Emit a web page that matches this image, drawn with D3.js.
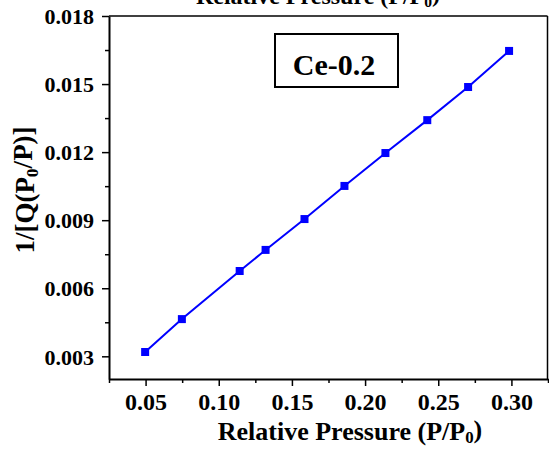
<!DOCTYPE html>
<html><head><meta charset="utf-8">
<script src="https://cdn.jsdelivr.net/npm/d3@7/dist/d3.min.js"></script>
<style>body{margin:0;background:#fff}svg{display:block}svg text{font-family:"Liberation Serif","Times New Roman",Times,"DejaVu Serif",serif !important;font-weight:bold;fill:#000}</style>
</head><body>
<script>
const pressure = [0.0497, 0.0748, 0.1143, 0.1320, 0.1586, 0.1859, 0.2139, 0.2425, 0.2704, 0.2984];
const invQ = [0.00319, 0.00464, 0.00676, 0.00769, 0.00905, 0.01051, 0.01196, 0.01341, 0.01487, 0.01646];
const xTicks = [0.05, 0.10, 0.15, 0.20, 0.25, 0.30];
const xMinor = [0.025, 0.075, 0.125, 0.175, 0.225, 0.275, 0.325];
const yTicks = [0.003, 0.006, 0.009, 0.012, 0.015, 0.018];
const yMinor = [0.0045, 0.0075, 0.0105, 0.0135, 0.0165];
const sampleLabel = "Ce-0.2";

const W = 549, H = 455;
const m = {left:109, top:16, right:1, bottom:76};
const svg = d3.select("body").append("svg").attr("width", W).attr("height", H);
const x = d3.scaleLinear().domain([0.025, 0.325]).range([m.left, W - m.right]);
const y = d3.scaleLinear().domain([0.002, 0.018]).range([H - m.bottom, m.top]);

// frame (top/right)
svg.append("line").attr("x1", m.left).attr("x2", W - m.right - 0.5).attr("y1", m.top).attr("y2", m.top).attr("stroke","#000").attr("stroke-width",1.5);
svg.append("line").attr("x1", W - m.right - 0.5).attr("x2", W - m.right - 0.5).attr("y1", m.top).attr("y2", H - m.bottom).attr("stroke","#000").attr("stroke-width",1.5);

// bottom axis
const xAxis = svg.append("g").attr("transform", `translate(0,${H - m.bottom})`)
  .call(d3.axisBottom(x).tickValues(xTicks).tickFormat(d3.format(".2f")).tickSize(7).tickSizeOuter(0));
xAxis.attr("font-family", null);
xAxis.select(".domain").attr("stroke-width", 2);
xAxis.selectAll(".tick line").attr("stroke-width", 1.5);
xAxis.selectAll("text").attr("font-size", 24).attr("dy", null).attr("y", 31);
svg.append("g").attr("transform", `translate(0,${H - m.bottom})`)
  .call(d3.axisBottom(x).tickValues(xMinor).tickFormat("").tickSize(4).tickSizeOuter(0))
  .call(g => { g.select(".domain").remove(); g.selectAll(".tick line").attr("stroke-width",1.5); });

// left axis
const yAxis = svg.append("g").attr("transform", `translate(${m.left},0)`)
  .call(d3.axisLeft(y).tickValues(yTicks).tickFormat(d3.format(".3f")).tickSize(7).tickSizeOuter(0));
yAxis.attr("font-family", null);
yAxis.select(".domain").attr("stroke-width", 2);
yAxis.selectAll(".tick line").attr("stroke-width", 1.5);
yAxis.selectAll("text").attr("font-size", 22).attr("x", -15).attr("dy", "0.35em");
svg.append("g").attr("transform", `translate(${m.left},0)`)
  .call(d3.axisLeft(y).tickValues(yMinor).tickFormat("").tickSize(4).tickSizeOuter(0))
  .call(g => { g.select(".domain").remove(); g.selectAll(".tick line").attr("stroke-width",1.5); });

// line + markers
const pts = pressure.map((p, i) => [p, invQ[i]]);
svg.append("path").datum(pts)
  .attr("d", d3.line().x(d => x(d[0])).y(d => y(d[1])))
  .attr("fill","none").attr("stroke","#0000ff").attr("stroke-width",2);
svg.selectAll("rect.pt").data(pts).join("rect").attr("class","pt")
  .attr("x", d => x(d[0]) - 4).attr("y", d => y(d[1]) - 4)
  .attr("width", 8).attr("height", 8).attr("fill","#0000ff");

// label box
svg.append("rect").attr("x", 275).attr("y", 34).attr("width", 123).attr("height", 53)
  .attr("fill","#fff").attr("stroke","#000").attr("stroke-width",2);
svg.append("text").attr("x", 334).attr("y", 75).attr("text-anchor","middle").attr("font-size", 30).text(sampleLabel);

// axis titles
function title(sel){
  sel.append("tspan").text("Relative Pressure (P/P");
  sel.append("tspan").attr("font-size","0.65em").attr("dy","0.2em").text("0");
  sel.append("tspan").attr("dy","-0.2em").text(")");
}
svg.append("text").attr("x", 350).attr("y", 440).attr("text-anchor","middle").attr("font-size", 26).call(title);
svg.append("text").attr("x", 318).attr("y", 4).attr("text-anchor","middle").attr("font-size", 24).call(title);

const yt = svg.append("text").attr("transform","translate(34,190) rotate(-90)").attr("text-anchor","middle").attr("font-size", 27);
yt.append("tspan").text("1/[Q(P");
yt.append("tspan").attr("font-size","0.65em").attr("dy","0.2em").text("0");
yt.append("tspan").attr("dy","-0.2em").text("/P)]");
</script>
</body></html>
